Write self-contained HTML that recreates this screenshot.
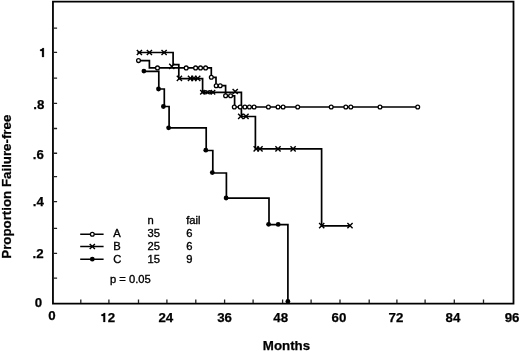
<!DOCTYPE html>
<html><head><meta charset="utf-8"><style>
html,body{margin:0;padding:0;background:#fff;width:520px;height:352px;overflow:hidden}
svg{display:block;will-change:transform}
</style></head><body>
<svg width="520" height="352" viewBox="0 0 520 352">
<path d="M52.95,1.7 H513.5 V303.7 H52.95 Z" fill="none" stroke="#000" stroke-width="1.8"/>
<path d="M53.5,28.1h3.6M53.5,52.3h3.6M53.5,78.2h3.6M53.5,103.3h3.6M53.5,128.5h3.6M53.5,153.25h3.6M53.5,176.6h3.6M53.5,201.7h3.6M53.5,228.3h3.6M53.5,253.3h3.6M53.5,278.2h3.6M80.8,303v-3.6M108.9,303v-3.6M138.5,303v-3.6M166.9,303v-3.6M195.8,303v-3.6M224.6,303v-3.6M253.1,303v-3.6M282.6,303v-3.6M311.1,303v-3.6M340,303v-3.6M369.2,303v-3.6M396.9,303v-3.6M425.1,303v-3.6M454.3,303v-3.6M483.5,303v-3.6" fill="none" stroke="#222" stroke-width="1.3"/>
<path d="M138.5,60.6 H149.4 V67.9 H211.3 V77.3 H216 V85.7 H225.6 V95.8 H234.6 V107 H417.7 M137.5,52.5 H173.1 V64.7 H178.8 V78.6 H202.6 V92.4 H241.4 V116.5 H255.4 V148.8 H321.6 V225.9 H349.9 M143.9,71.3 H158.8 V89 H164.3 V106.5 H169.1 V127.8 H206.2 V150.5 H212.8 V173 H226.4 V198.2 H269 V224.6 H287.9 V302" fill="none" stroke="#000" stroke-width="1.7" stroke-linejoin="miter"/>
<path d="M136.80,49.90L142.00,55.10M136.80,55.10L142.00,49.90M146.80,49.90L152.00,55.10M146.80,55.10L152.00,49.90M161.50,49.90L166.70,55.10M161.50,55.10L166.70,49.90M169.20,63.70L174.40,68.90M169.20,68.90L174.40,63.70M176.80,75.70L182.00,80.90M176.80,80.90L182.00,75.70M187.90,75.70L193.10,80.90M187.90,80.90L193.10,75.70M191.30,75.70L196.50,80.90M191.30,80.90L196.50,75.70M195.10,75.70L200.30,80.90M195.10,80.90L200.30,75.70M232.60,88.90L237.80,94.10M232.60,94.10L237.80,88.90M238.10,113.80L243.30,119.00M238.10,119.00L243.30,113.80M243.40,113.80L248.60,119.00M243.40,119.00L248.60,113.80M253.60,146.20L258.80,151.40M253.60,151.40L258.80,146.20M257.40,146.20L262.60,151.40M257.40,151.40L262.60,146.20M275.40,146.20L280.60,151.40M275.40,151.40L280.60,146.20M290.50,146.20L295.70,151.40M290.50,151.40L295.70,146.20M319.10,223.00L324.30,228.20M319.10,228.20L324.30,223.00M347.40,223.00L352.60,228.20M347.40,228.20L352.60,223.00M200.20,90.10L204.60,94.50M200.20,94.50L204.60,90.10M210.80,90.10L215.20,94.50M210.80,94.50L215.20,90.10" fill="none" stroke="#000" stroke-width="1.4"/>
<g fill="#fff" stroke="#000" stroke-width="1.3"><circle cx="138.5" cy="60.6" r="1.9"/><circle cx="157.5" cy="67.9" r="1.9"/><circle cx="186.2" cy="67.9" r="1.9"/><circle cx="195.6" cy="67.9" r="1.9"/><circle cx="200.5" cy="67.9" r="1.9"/><circle cx="205.6" cy="67.9" r="1.9"/><circle cx="211.3" cy="77.3" r="1.9"/><circle cx="216.2" cy="85.7" r="1.9"/><circle cx="220.2" cy="85.7" r="1.9"/><circle cx="225.6" cy="95.8" r="1.9"/><circle cx="230.6" cy="95.8" r="1.9"/><circle cx="234.3" cy="107" r="1.9"/><circle cx="240.2" cy="107" r="1.9"/><circle cx="244.9" cy="107" r="1.9"/><circle cx="249.4" cy="107" r="1.9"/><circle cx="254.1" cy="107" r="1.9"/><circle cx="268.4" cy="107" r="1.9"/><circle cx="278" cy="107" r="1.9"/><circle cx="283.1" cy="107" r="1.9"/><circle cx="297.7" cy="107" r="1.9"/><circle cx="331.2" cy="107" r="1.9"/><circle cx="345.8" cy="107" r="1.9"/><circle cx="350.8" cy="107" r="1.9"/><circle cx="380" cy="107" r="1.9"/><circle cx="417.7" cy="107" r="1.9"/></g>
<g fill="none" stroke="#000" stroke-width="1.4"><circle cx="205.7" cy="92.3" r="1.6"/><circle cx="209.6" cy="92.3" r="1.6"/></g>
<g fill="#000"><circle cx="143.9" cy="71.1" r="2.4"/><circle cx="158.5" cy="89" r="2.4"/><circle cx="163.4" cy="106.5" r="2.4"/><circle cx="168.6" cy="127.8" r="2.4"/><circle cx="205.8" cy="150.2" r="2.4"/><circle cx="212.3" cy="172.6" r="2.4"/><circle cx="226.1" cy="198" r="2.4"/><circle cx="268.6" cy="224.3" r="2.4"/><circle cx="278.2" cy="224.4" r="2.4"/><circle cx="287.9" cy="301.5" r="2.4"/></g>
<g font-family="Liberation Sans" font-weight="bold" font-size="13.3" fill="#000" stroke="#000" stroke-width="0.25">
<path transform="translate(39.05,57.0) scale(0.013300000000000001,-0.013300000000000001)" d="M365,0L365,668L262,668C246,600 175,560 80,555L80,452L226,452L226,0Z" stroke-width="18.8"/>
<text x="44.4" y="108.6" text-anchor="end">.8</text>
<text x="43.9" y="158.6" text-anchor="end">.6</text>
<text x="43.9" y="205.75" text-anchor="end">.4</text>
<text x="43.599999999999994" y="258.1" text-anchor="end">.2</text>
<text x="42.199999999999996" y="306.9" text-anchor="end">0</text>
<text x="52" y="320.0" text-anchor="middle">0</text>
<path transform="translate(100.31,321.9) scale(0.013300000000000001,-0.013300000000000001)" d="M365,0L365,668L262,668C246,600 175,560 80,555L80,452L226,452L226,0Z" stroke-width="18.8"/>
<text x="107.70" y="321.9">2</text>
<text x="165.8" y="322.2" text-anchor="middle">24</text>
<text x="224.6" y="322" text-anchor="middle">36</text>
<text x="280.75" y="321.9" text-anchor="middle">48</text>
<text x="339" y="322" text-anchor="middle">60</text>
<text x="396" y="322" text-anchor="middle">72</text>
<text x="453" y="322" text-anchor="middle">84</text>
<text x="512.1" y="322.2" text-anchor="middle">96</text>
<text x="286.5" y="350.2" text-anchor="middle">Months</text>
<text transform="translate(10.8,186.7) rotate(-90)" text-anchor="middle">Proportion Failure-free</text>
</g>
<path d="M80.2,234.3H103.6M80.2,246.5H103.6M80.2,259.2H103.6" stroke="#000" stroke-width="1.5"/>
<path d="M89.70,243.90L94.90,249.10M89.70,249.10L94.90,243.90" stroke="#000" stroke-width="1.4"/>
<circle cx="92.3" cy="234.3" r="1.9" fill="#fff" stroke="#000" stroke-width="1.3"/>
<circle cx="92.3" cy="259.2" r="2.4" fill="#000"/>
<g font-family="Liberation Sans" font-size="11.2" fill="#000" stroke="#000" stroke-width="0.35">
<text x="147.5" y="224.3">n</text>
<text x="186.2" y="224.3">fail</text>
<text x="113.3" y="236.8">A</text>
<text x="147.5" y="236.8">35</text>
<text x="186.2" y="236.8">6</text>
<text x="113.3" y="249.9">B</text>
<text x="147.5" y="249.9">25</text>
<text x="186.2" y="249.9">6</text>
<text x="113.3" y="262.6">C</text>
<text x="147.5" y="262.6">15</text>
<text x="186.2" y="262.6">9</text>
<text x="110" y="283.2">p = 0.05</text>
</g>
</svg>
</body></html>
